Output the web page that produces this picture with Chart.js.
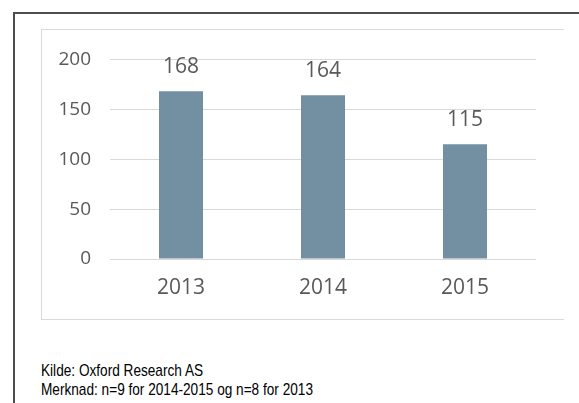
<!DOCTYPE html>
<html>
<head>
<meta charset="utf-8">
<script src="https://cdn.jsdelivr.net/npm/chart.js@4"></script>
<style>
    body { margin: 0; background: #fff; width: 579px; height: 403px; overflow: hidden; position: relative; }
    #frame { position: absolute; left: 13px; top: 12px; width: 580px; height: 400px; border-top: 2px solid #4d4d4d; border-left: 2px solid #4d4d4d; }
    #box { position: absolute; left: 41px; top: 29px; width: 523px; height: 291px; border: 1px solid #d9d9d9; border-right: none; box-sizing: border-box; }
    #box canvas { position: absolute; left: -1px; top: -1px; }
    .note { position: absolute; left: 41px; font-family: "Liberation Sans Narrow", "Liberation Sans", Arial, sans-serif; font-size: 17px; color: #000; white-space: nowrap; transform-origin: 0 0; }
</style>
</head>
<body>
<div id="frame"></div>
<div id="box"><canvas id="chart" width="523" height="291"></canvas></div>
<div class="note" id="note1" style="top:361px">Kilde: Oxford Research AS</div>
<div class="note" id="note2" style="top:380px">Merknad: n=9 for 2014-2015 og n=8 for 2013</div>
<script>
const years = ['2013', '2014', '2015'];
const counts = [168, 164, 115];
const yTicks = [0, 50, 100, 150, 200];

const textColor = '#595959';

// smal skrift: klem teksten til samme bredde som originalen
const note2 = document.getElementById('note2');
const squeeze = 272 / note2.getBoundingClientRect().width;
document.querySelectorAll('.note').forEach(el => {
    el.style.transform = 'scaleX(' + squeeze + ')';
});

// skriver verdiene over søylene
const valueLabels = {
    id: 'valueLabels',
    afterDatasetsDraw(chart) {
        const c = chart.ctx;
        const meta = chart.getDatasetMeta(0);
        c.save();
        c.font = '21px "Open Sans", sans-serif';
        c.fillStyle = textColor;
        c.textAlign = 'center';
        c.textBaseline = 'bottom';
        meta.data.forEach((bar, i) => {
            c.fillText(String(counts[i]), bar.x, bar.y - 14);
        });
        c.restore();
    }
};

new Chart(document.getElementById('chart'), {
    type: 'bar',
    data: {
        labels: years,
        datasets: [{
            data: counts,
            backgroundColor: '#7390a2',
            categoryPercentage: 1,
            barPercentage: 0.31
        }]
    },
    options: {
        responsive: false,
        animation: false,
        layout: { padding: { left: 0, right: 28, top: 28, bottom: 0 } },
        plugins: {
            legend: { display: false },
            tooltip: { enabled: false }
        },
        scales: {
            x: {
                grid: { display: false, drawTicks: false },
                border: { display: false },
                ticks: { color: textColor, font: { family: 'Open Sans', size: 21 }, padding: 16 },
                afterFit(scale) { scale.height = 61; }
            },
            y: {
                min: 0,
                max: 200,
                afterBuildTicks(scale) { scale.ticks = yTicks.map(v => ({ value: v })); },
                grid: { color: '#d9d9d9', lineWidth: 1, drawTicks: false },
                border: { display: false },
                ticks: { color: textColor, font: { family: 'Open Sans', size: 19 }, padding: 19 },
                afterFit(scale) { scale.width = 69; }
            }
        }
    },
    plugins: [valueLabels]
});
</script>
</body>
</html>
